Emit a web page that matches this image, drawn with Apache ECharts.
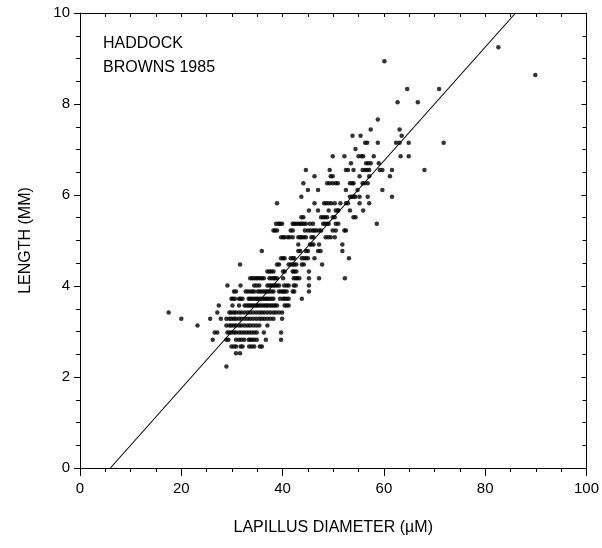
<!DOCTYPE html>
<html>
<head>
<meta charset="utf-8">
<script src="https://cdn.jsdelivr.net/npm/echarts@6/dist/echarts.min.js"></script>
<style>html,body{margin:0;padding:0;background:#fff;}#c{width:602px;height:548px;}</style>
</head>
<body>
<div id="c"></div>
<script>
// Row lengths (mm) and the lapillus diameters (um) of points lying in each row
const rowLengths = [9.25, 8.94, 8.64, 8.33, 8.04, 7.66, 7.44, 7.30, 7.15, 7.01, 6.85, 6.70, 6.55, 6.41, 6.26, 6.11, 5.96, 5.82, 5.66, 5.51, 5.37, 5.22, 5.07, 4.91, 4.77, 4.61, 4.47, 4.32, 4.17, 4.01, 3.88, 3.72, 3.57, 3.42, 3.28, 3.13, 2.98, 2.82, 2.67, 2.52, 2.23];
const rowDiameters = [
  [82.6],
  [60.1],
  [89.9],
  [64.6, 70.9],
  [62.7, 66.7],
  [58.8],
  [57.4, 63.1],
  [53.8, 55.4, 63.5],
  [56.3, 56.7, 58.8, 62.4, 63.1, 64.9, 71.8],
  [54.4],
  [49.9, 52.2, 55.0, 55.6, 55.9, 58.0, 63.3, 64.9],
  [53.5, 56.5, 56.9, 57.4, 59.0],
  [44.6, 49.3, 52.5, 52.9, 54.0, 55.8, 56.3, 56.7, 57.1, 59.2, 59.7, 61.6, 68.0],
  [46.3, 49.5, 49.9, 55.2, 57.1, 61.2],
  [44.1, 48.8, 49.3, 49.9, 50.5, 50.9, 53.3, 53.7, 54.0, 55.8, 56.2, 56.8],
  [45.0, 47.0, 52.5, 54.8, 59.7],
  [43.7, 53.3, 53.7, 54.0, 54.4, 55.2, 56.8, 61.6],
  [38.9, 46.3, 48.2, 48.6, 49.1, 49.6, 50.3, 51.4, 52.5, 52.9, 55.2, 57.1],
  [45.2, 47.0, 49.1, 50.5, 50.9, 51.0, 53.3, 55.9],
  [43.7, 44.1, 47.6, 48.0, 48.4, 48.8, 49.9, 50.3, 54.0, 54.4],
  [38.7, 39.2, 39.5, 39.9, 42.0, 42.3, 42.7, 43.1, 43.5, 43.8, 44.2, 44.6, 45.4, 46.0, 48.0, 48.4, 48.8, 49.1, 50.5, 51.0, 58.6],
  [38.2, 38.5, 38.9, 41.6, 42.0, 44.4, 45.0, 45.5, 46.0, 46.3, 46.7, 47.2, 47.6, 49.9, 50.5, 52.2, 52.5],
  [39.7, 40.1, 40.4, 41.0, 41.4, 42.0, 43.1, 43.5, 43.8, 44.2, 44.6, 45.7, 46.1, 48.5, 49.0, 49.5, 50.3],
  [43.1, 45.4, 45.7, 46.1, 47.2, 51.8],
  [35.9, 43.1, 43.5, 44.6, 45.0, 47.0, 47.5, 51.8],
  [39.7, 40.1, 40.4, 41.6, 42.0, 42.3, 43.8, 44.2, 44.6, 45.0, 46.3, 53.1],
  [31.6, 38.9, 39.3, 41.2, 41.6, 42.0, 42.3, 42.7, 43.8, 44.2, 47.8],
  [37.0, 37.4, 37.8, 38.2, 40.1, 40.4, 42.0, 42.3, 42.7, 45.2],
  [33.6, 34.0, 34.4, 34.8, 35.1, 35.5, 35.9, 36.3, 37.4, 37.8, 38.2, 38.5, 38.9, 40.1, 42.2, 42.6, 42.9, 43.3, 45.2, 47.2, 52.3],
  [29.1, 31.7, 34.4, 34.9, 35.4, 37.0, 37.4, 37.8, 38.2, 38.5, 38.9, 39.3, 40.3, 40.8, 41.2, 42.2, 42.6, 45.2],
  [30.4, 30.8, 32.7, 33.1, 33.6, 34.0, 34.4, 35.1, 35.5, 35.9, 36.3, 36.7, 37.0, 37.4, 37.8, 38.2, 39.3, 39.7, 40.1, 40.4, 40.8, 42.0, 42.3, 45.2],
  [29.9, 30.2, 30.6, 31.4, 31.7, 32.1, 33.3, 33.6, 34.0, 34.4, 34.8, 35.1, 35.5, 35.9, 36.3, 36.7, 37.0, 37.4, 37.8, 38.2, 39.5, 40.1, 40.4, 40.8, 41.2, 43.8],
  [27.4, 30.1, 31.4, 32.5, 32.9, 33.3, 33.6, 34.0, 34.4, 34.8, 35.1, 35.5, 35.9, 36.3, 36.7, 37.0, 37.4, 37.8, 38.2, 38.5, 38.9, 40.4, 40.8, 41.2],
  [17.5, 27.1, 29.5, 29.9, 30.4, 30.8, 31.4, 31.9, 32.5, 33.1, 33.6, 34.2, 34.8, 35.4, 35.9, 36.4, 37.0, 37.6, 38.2, 38.7, 39.3, 39.9],
  [20.0, 25.7, 27.8, 28.9, 29.5, 29.9, 30.4, 30.8, 31.4, 31.9, 32.5, 33.1, 33.6, 34.2, 34.8, 35.4, 35.9, 36.4, 37.0, 37.6, 38.2, 39.9],
  [23.2, 28.9, 29.5, 29.9, 30.4, 30.8, 31.4, 31.9, 32.5, 33.1, 33.6, 34.2, 34.8, 35.4, 37.0],
  [26.6, 27.1, 29.1, 29.5, 29.9, 30.4, 30.8, 31.4, 31.9, 32.4, 32.9, 33.4, 33.9, 34.4, 34.9, 36.3, 39.7],
  [26.2, 28.9, 29.3, 30.8, 31.4, 31.9, 32.4, 33.3, 33.6, 34.0, 34.4, 34.9, 36.7, 39.7],
  [29.9, 30.4, 30.8, 31.7, 32.1, 33.4, 33.9, 34.4, 35.5, 35.9],
  [30.8, 31.6],
  [28.9]
];
// Regression line end points
const lineDiameters = [6, 86];
const lineLengths = [0, 10];

const xTicks = [0, 20, 40, 60, 80, 100];
const yTicks = [0, 2, 4, 6, 8, 10];

const points = [];
rowLengths.forEach((y, i) => rowDiameters[i].forEach(x => points.push([x, y])));
const linePts = lineDiameters.map((x, i) => [x, lineLengths[i]]);

const FONT = 'Liberation Sans, Arial, sans-serif';
const chart = echarts.init(document.getElementById('c'), null, {renderer: 'canvas'});
const axisLineStyle = {color: '#000', width: 1};
chart.setOption({
  animation: false,
  backgroundColor: '#fff',
  grid: {left: 80, right: 14, top: 13, bottom: 80, containLabel: false},
  graphic: [{
    type: 'text', left: 103, top: 32,
    style: {text: 'HADDOCK\nBROWNS 1985', font: '16px ' + FONT, fill: '#000', lineHeight: 24}
  }],
  xAxis: [{
    type: 'value', min: xTicks[0], max: xTicks[xTicks.length - 1], interval: 20, position: 'bottom',
    name: 'LAPILLUS DIAMETER (µM)', nameLocation: 'middle', nameGap: 52,
    nameTextStyle: {fontFamily: FONT, fontSize: 16, color: '#000'},
    axisLine: {show: true, onZero: false, lineStyle: axisLineStyle},
    axisTick: {show: true, inside: false, length: 8, lineStyle: axisLineStyle},
    minorTick: {show: true, splitNumber: 4, length: 4, lineStyle: axisLineStyle},
    axisLabel: {fontFamily: FONT, fontSize: 15, color: '#000', margin: 13},
    splitLine: {show: false}
  }, {
    type: 'value', min: 0, max: 100, interval: 20, position: 'top',
    axisLine: {show: true, onZero: false, lineStyle: axisLineStyle},
    axisTick: {show: true, inside: true, length: 4, lineStyle: axisLineStyle},
    minorTick: {show: true, splitNumber: 4, length: 4, lineStyle: axisLineStyle},
    axisLabel: {show: false}, splitLine: {show: false}
  }],
  yAxis: [{
    type: 'value', min: yTicks[0], max: yTicks[yTicks.length - 1], interval: 2, position: 'left',
    name: 'LENGTH (MM)', nameLocation: 'middle', nameGap: 46,
    nameTextStyle: {fontFamily: FONT, fontSize: 16, color: '#000'},
    axisLine: {show: true, onZero: false, lineStyle: axisLineStyle},
    axisTick: {show: true, inside: false, length: 6, lineStyle: axisLineStyle},
    minorTick: {show: true, splitNumber: 4, length: 4, lineStyle: axisLineStyle},
    axisLabel: {fontFamily: FONT, fontSize: 15, color: '#000', margin: 10},
    splitLine: {show: false}
  }, {
    type: 'value', min: 0, max: 10, interval: 2, position: 'right',
    axisLine: {show: true, onZero: false, lineStyle: axisLineStyle},
    axisTick: {show: true, inside: true, length: 5, lineStyle: axisLineStyle},
    minorTick: {show: true, splitNumber: 4, length: 4, lineStyle: axisLineStyle},
    axisLabel: {show: false}, splitLine: {show: false}
  }],
  series: [{
    type: 'scatter', xAxisIndex: 0, yAxisIndex: 0, data: points,
    symbol: 'circle', symbolSize: 4.5, itemStyle: {color: '#000'}
  }, {
    type: 'line', xAxisIndex: 0, yAxisIndex: 0, data: linePts,
    symbol: 'none', lineStyle: {color: '#000', width: 1.1}
  }]
});
</script>
</body>
</html>
